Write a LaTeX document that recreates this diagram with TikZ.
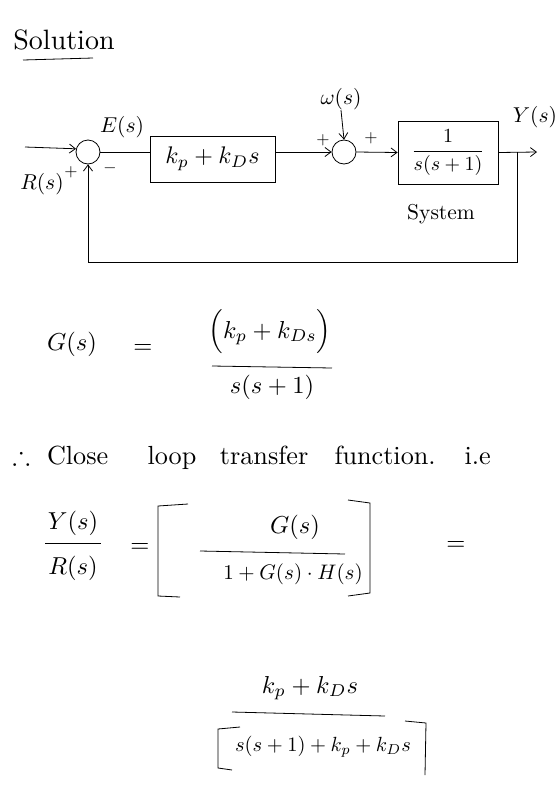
\documentclass[tikz,border=0pt]{standalone}
\usepackage{amsmath,amssymb}
\usetikzlibrary{arrows.meta}
\begin{document}
\begin{tikzpicture}[x=1pt,y=-1pt,
  txt/.style={scale=2.15, inner sep=0pt},
  big/.style={scale=2.45, inner sep=0pt},
  sml/.style={scale=1.7, inner sep=0pt},
  blk/.style={draw, thick, inner sep=0pt},
  sumc/.style={draw, thick, circle, minimum size=24pt, inner sep=0pt},
  arr/.style={thick, -{Straight Barb[length=6pt,width=9pt]}},
  ln/.style={thick}]
\useasboundingbox (0,0) rectangle (560,812);

% title
\node[scale=2.8, inner sep=0pt] (title) at (64,40) {Solution};
\coordinate (ulA) at (23,60);
\coordinate (ulB) at (93,58);
\draw[ln] (ulA) -- (ulB);

% block diagram
\node[sumc] (s1) at (88,152) {};
\coordinate (rin) at (25,147);
\draw[arr] (rin) -- (s1.165);
\node[txt] (R) at (42,184) {$R(s)$};
\node[sml] (p1) at (71,172) {$+$};
\node[sml] (m1) at (110,168) {$-$};
\node[txt] (E) at (122,127) {$E(s)$};
\node[blk, minimum width=125pt, minimum height=46pt] (b1) at (212.5,159) {};
\node[scale=2.4, inner sep=0pt] (b1t) at (b1) {$k_p + k_D s$};
\draw[ln] (s1.east) -- (s1.east -| b1.west);
\node[sumc] (s2) at (344,152) {};
\draw[arr] (s1.east -| b1.east) -- (s2.west);
\node[txt] (w) at (341,99) {$\omega(s)$};
\draw[arr] (w.south) -- (s2.north);
\node[sml] (p2) at (323,140) {$+$};
\node[sml] (p3) at (371,138) {$+$};
\node[blk, minimum width=100pt, minimum height=63pt] (b2) at (448,152.5) {};
\node[scale=2.0, inner sep=0pt] (b2t) at (b2) {$\displaystyle\frac{1}{s(s+1)}$};
\draw[arr] (s2.east) -- (b2.west);
\coordinate (yout) at (537,152);
\coordinate (tap) at (517,152);
\coordinate (fbc) at (517,262);
\draw[arr] (b2.east) -- (yout);
\draw[arr] (tap) -- (fbc) -| (s1.south);
\node[txt] (Y) at (535,117) {$Y(s)$};
\node[txt] (sys) at (441,214) {System};

% G(s)
\node[big] (G) at (72,344) {$G(s)$};
\node[big] (eq1) at (143,349) {$=$};
\node[big] (gn) at (270,332) {$\Big(k_p + k_{Ds}\Big)$};
\coordinate (g1) at (212,366);
\coordinate (g2) at (332,368);
\draw[ln] (g1) -- (g2);
\node[big] (gd) at (272,387) {$s(s+1)$};

% closed loop line
\node[scale=2.62, inner sep=0pt, anchor=west] (cl) at (12,458) {$\therefore$\hspace{6.5pt}Close\hspace{15pt}loop\hspace{9pt}transfer\hspace{10pt}function.\hspace{11pt}i.e};

% Y/R
\node[big] (Yn) at (73,523) {$Y(s)$};
\coordinate (yr1) at (45,543);
\coordinate (yr2) at (101,543);
\draw[ln] (yr1) -- (yr2);
\node[big] (Rd) at (73,568) {$R(s)$};
\node[big] (eq2) at (140,548) {$=$};
\coordinate (lb1) at (188,504);
\coordinate (lb2) at (158,506);
\coordinate (lb3) at (158,596);
\coordinate (lb4) at (180,597);
\draw[ln] (lb1) -- (lb2) -- (lb3) -- (lb4);
\coordinate (rb1) at (348,500);
\coordinate (rb2) at (370,503);
\coordinate (rb3) at (370,593);
\coordinate (rb4) at (348,596);
\draw[ln] (rb1) -- (rb2) -- (rb3) -- (rb4);
\node[big] (Gn) at (295,527) {$G(s)$};
\coordinate (cb1) at (200,551);
\coordinate (cb2) at (345,554);
\draw[ln] (cb1) -- (cb2);
\node[scale=2.1, inner sep=0pt] (Gd) at (293,574) {$1+G(s)\cdot H(s)$};
\node[big] (eq3) at (456,546) {$=$};

% final
\node[big] (fn) at (310,688) {$k_p + k_D s$};
\coordinate (fb1) at (232,712);
\coordinate (fb2) at (385,716);
\draw[ln] (fb1) -- (fb2);
\node[scale=2.05, inner sep=0pt] (fd) at (323,747) {$s(s+1) + k_p + k_D s$};
\coordinate (flb1) at (240,727);
\coordinate (flb2) at (218,729);
\coordinate (flb3) at (218,768);
\coordinate (flb4) at (232,770);
\draw[ln] (flb1) -- (flb2) -- (flb3) -- (flb4);
\coordinate (frb1) at (405,721);
\coordinate (frb2) at (426,723);
\coordinate (frb3) at (425,775);
\draw[ln] (frb1) -- (frb2) -- (frb3);
\end{tikzpicture}
\end{document}
